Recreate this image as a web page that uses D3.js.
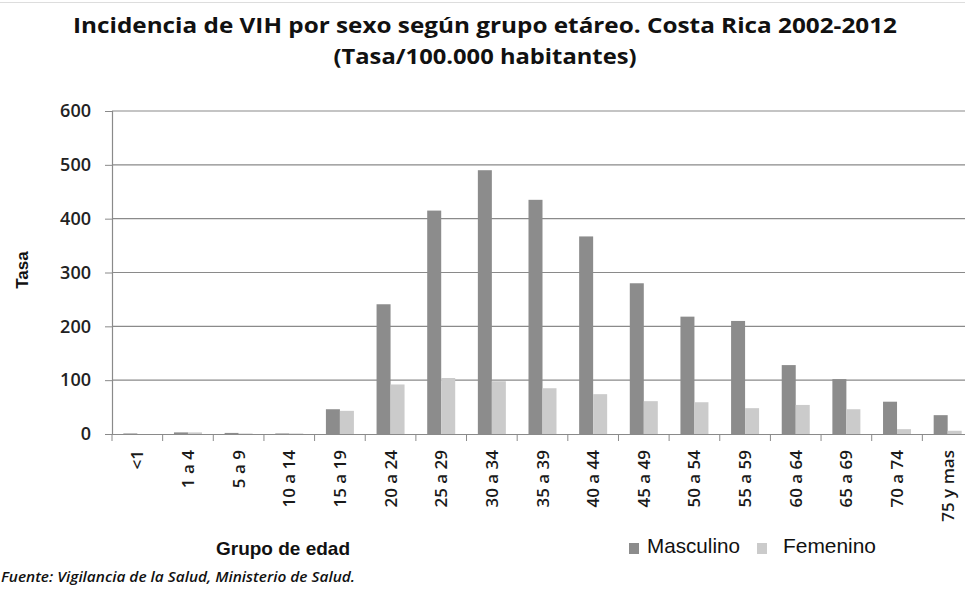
<!DOCTYPE html>
<html><head><meta charset="utf-8">
<script src="https://cdn.jsdelivr.net/npm/d3@7"></script>
<style>body{margin:0;background:#fff}svg{display:block}</style>
</head><body><svg id="c" width="965" height="590"></svg>
<script>
const categories = ["<1","1 a 4","5 a 9","10 a 14","15 a 19","20 a 24","25 a 29","30 a 34","35 a 39","40 a 44","45 a 49","50 a 54","55 a 59","60 a 64","65 a 69","70 a 74","75 y mas"];
const masculino = [1,3,2,1,46,241,415,490,435,367,280,218,210,128,102,60,35];
const femenino  = [0,3,1,1,43,92,104,98,85,74,61,59,48,54,46,9,6];
const yTicks = [0,100,200,300,400,500,600];
const seriesNames = ["Masculino","Femenino"];
const colors = ["#8c8c8c","#cbcbcb"];

const svg = d3.select("#c");
const x = d3.scaleBand().domain(categories).range([112, 973]).paddingInner(0).paddingOuter(0);
const y = d3.scaleLinear().domain([0,600]).range([434, 111]);
const bw = 14;

// top thin line
svg.append("line").attr("x1",0).attr("x2",965).attr("y1",2.5).attr("y2",2.5).attr("stroke","#ddd");

// title
svg.append("text").attr("x",485).attr("y",32.5).attr("text-anchor","middle")
  .attr("font-family","Open Sans").attr("font-weight","bold").attr("font-size",21).attr("fill","#111")
  .attr("textLength",824).attr("lengthAdjust","spacingAndGlyphs")
  .text("Incidencia de VIH por sexo según grupo etáreo. Costa Rica 2002-2012");
svg.append("text").attr("x",485).attr("y",63.5).attr("text-anchor","middle")
  .attr("font-family","Open Sans").attr("font-weight","bold").attr("font-size",21).attr("fill","#111")
  .attr("textLength",303).attr("lengthAdjust","spacingAndGlyphs")
  .text("(Tasa/100.000 habitantes)");

// gridlines
svg.append("g").selectAll("line").data(yTicks.filter(d=>d>0)).join("line")
  .attr("x1",112).attr("x2",965).attr("y1",d=>y(d)).attr("y2",d=>y(d))
  .attr("stroke","#8a8a8a").attr("stroke-width",1.2);

// y axis
const ya = svg.append("g").attr("transform","translate(112,0)")
  .call(d3.axisLeft(y).tickValues(yTicks).tickSize(7).tickPadding(14).tickFormat(d3.format("d")));
ya.select(".domain").attr("stroke","#8a8a8a").attr("stroke-width",1.2);
ya.selectAll(".tick line").attr("stroke","#8a8a8a");
ya.selectAll("text").attr("font-family","Open Sans").attr("font-weight","600").attr("font-size",18).attr("fill","#222");

// bars
const gM = svg.append("g");
gM.selectAll("rect").data(categories.map((c,i)=>({c,v:masculino[i]}))).join("rect")
  .attr("x",d=>x(d.c)+x.bandwidth()/2-bw).attr("width",bw)
  .attr("y",d=>y(d.v)).attr("height",d=>y(0)-y(d.v)).attr("fill",colors[0]);
const gF = svg.append("g");
gF.selectAll("rect").data(categories.map((c,i)=>({c,v:femenino[i]}))).join("rect")
  .attr("x",d=>x(d.c)+x.bandwidth()/2).attr("width",bw)
  .attr("y",d=>y(d.v)).attr("height",d=>y(0)-y(d.v)).attr("fill",colors[1]);

// x axis
const xa = svg.append("g").attr("transform","translate(0,434)")
  .call(d3.axisBottom(x).tickSize(0).tickFormat(""));
xa.select(".domain").attr("stroke","#8a8a8a").attr("stroke-width",1.2);
xa.selectAll(".tick").remove();
svg.append("g").selectAll("line").data(categories).join("line")
  .attr("x1",d=>x(d)).attr("x2",d=>x(d)).attr("y1",434).attr("y2",441)
  .attr("stroke","#8a8a8a");
svg.append("g").selectAll("text").data(categories).join("text")
  .attr("transform",d=>`translate(${x(d)+x.bandwidth()/2+6},450) rotate(-90)`)
  .attr("text-anchor","end")
  .attr("font-family","Open Sans").attr("font-weight","600").attr("font-size",17).attr("fill","#1a1a1a")
  .text(d=>d);

// axis titles
svg.append("text").attr("transform","translate(28,270) rotate(-90)").attr("text-anchor","middle")
  .attr("font-family","Liberation Sans").attr("font-weight","bold").attr("font-size",17).attr("fill","#111").text("Tasa");
svg.append("text").attr("x",283).attr("y",555).attr("text-anchor","middle")
  .attr("font-family","Liberation Sans").attr("font-weight","bold").attr("font-size",19).attr("fill","#111").text("Grupo de edad");

// legend
const legX = [629, 757];
const legTX = [647, 783];
const legTW = [93, 93];
seriesNames.forEach((n,i)=>{
  svg.append("rect").attr("x",legX[i]).attr("y",543).attr("width",10).attr("height",11).attr("fill",colors[i]);
  svg.append("text").attr("x",legTX[i]).attr("y",553)
    .attr("font-family","Liberation Sans").attr("font-size",21).attr("fill","#111")
    .attr("textLength",legTW[i]).attr("lengthAdjust","spacingAndGlyphs").text(n);
});

// source
svg.append("text").attr("x",1).attr("y",582)
  .attr("font-family","Open Sans").attr("font-style","italic").attr("font-weight","600").attr("font-size",15).attr("fill","#111")
  .attr("textLength",354).attr("lengthAdjust","spacingAndGlyphs")
  .text("Fuente: Vigilancia de la Salud, Ministerio de Salud.");
</script></body></html>
